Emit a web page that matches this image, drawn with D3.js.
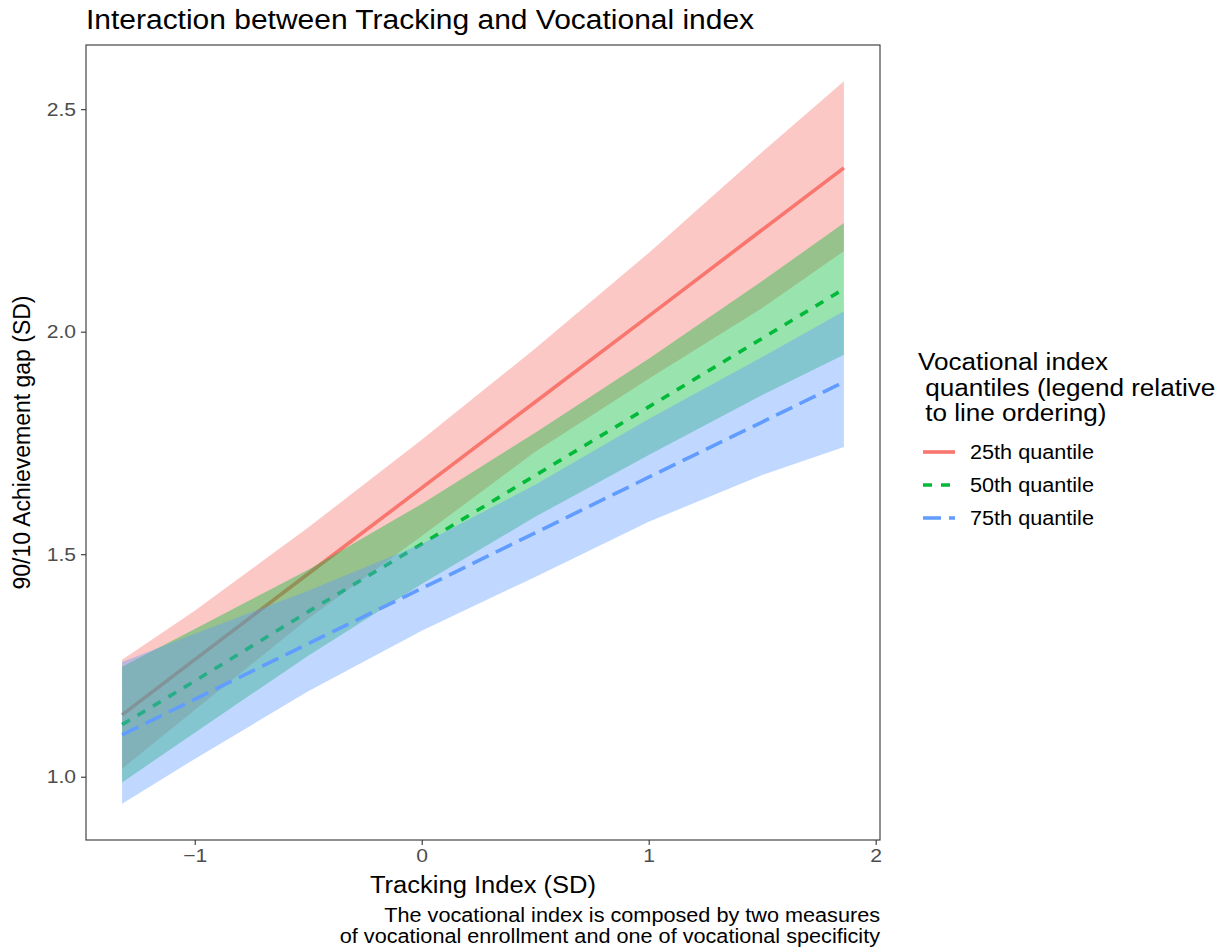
<!DOCTYPE html>
<html>
<head>
<meta charset="utf-8">
<script src="https://cdn.jsdelivr.net/npm/d3@7"></script>
<style>
  body { margin: 0; background: #fff; }
  svg text { font-family: "Liberation Sans", Arial, sans-serif; }
</style>
</head>
<body>
<div id="chart"></div>
<script>
// Tracking index positions where predictions were read
const trackingIdx = [-1.32, -1, -0.5, 0, 0.5, 1, 1.5, 1.86];

// 25th quantile of vocational index
const fit25 = [1.139, 1.263, 1.456, 1.649, 1.842, 2.035, 2.229, 2.368];
const hi25  = [1.263, 1.373, 1.560, 1.757, 1.962, 2.177, 2.404, 2.563];
const lo25  = [1.018, 1.150, 1.355, 1.541, 1.730, 1.894, 2.053, 2.181];

// 50th quantile
const fit50 = [1.117, 1.215, 1.371, 1.523, 1.677, 1.831, 1.985, 2.096];
const hi50  = [1.247, 1.332, 1.465, 1.613, 1.773, 1.939, 2.114, 2.244];
const lo50  = [0.987, 1.099, 1.272, 1.433, 1.584, 1.723, 1.858, 1.948];

// 75th quantile
const fit75 = [1.094, 1.174, 1.299, 1.423, 1.548, 1.673, 1.797, 1.887];
const hi75  = [1.258, 1.321, 1.418, 1.523, 1.656, 1.804, 1.943, 2.046];
const lo75  = [0.939, 1.040, 1.192, 1.328, 1.449, 1.573, 1.678, 1.741];

const seriesNames = ['25th quantile', '50th quantile', '75th quantile'];
const xTicks = [-1, 0, 1, 2];
const yTicks = [1.0, 1.5, 2.0, 2.5];

const width = 1227, height = 949;
const panel = { left: 86, right: 880, top: 45, bottom: 840 };
const stretch = 1.11; // reference text is a bit wider than it is tall

const colors = ['#F8766D', '#00BA38', '#619CFF'];
const dashes = [null, '9,9', '18,8'];

const series = [
    { name: seriesNames[0], fit: fit25, hi: hi25, lo: lo25 },
    { name: seriesNames[1], fit: fit50, hi: hi50, lo: lo50 },
    { name: seriesNames[2], fit: fit75, hi: hi75, lo: lo75 }
];

const svg = d3.select('#chart')
    .append('svg')
    .attr('width', width)
    .attr('height', height);

// ggplot-like 5% expansion
function expand(ext) {
    const pad = (ext[1] - ext[0]) * 0.05;
    return [ext[0] - pad, ext[1] + pad];
}

const allY = [].concat(hi25, lo25, hi50, lo50, hi75, lo75);

const xScale = d3.scaleLinear()
    .domain(expand(d3.extent(trackingIdx)))
    .range([panel.left, panel.right]);

const yScale = d3.scaleLinear()
    .domain(expand(d3.extent(allY)))
    .range([panel.bottom, panel.top]);

const area = d3.area()
    .x(d => xScale(d.x))
    .y0(d => yScale(d.lo))
    .y1(d => yScale(d.hi));

const line = d3.line()
    .x(d => xScale(d.x))
    .y(d => yScale(d.y));

// ribbons and lines, one series at a time
series.forEach((s, i) => {
    const pts = trackingIdx.map((x, j) => ({ x: x, lo: s.lo[j], hi: s.hi[j], y: s.fit[j] }));
    svg.append('path')
        .datum(pts)
        .attr('d', area)
        .attr('fill', colors[i])
        .attr('fill-opacity', 0.4);
    svg.append('path')
        .datum(pts)
        .attr('d', line)
        .attr('fill', 'none')
        .attr('stroke', colors[i])
        .attr('stroke-width', 3.6)
        .attr('stroke-dasharray', dashes[i]);
});

// panel border
svg.append('rect')
    .attr('x', panel.left)
    .attr('y', panel.top)
    .attr('width', panel.right - panel.left)
    .attr('height', panel.bottom - panel.top)
    .attr('fill', 'none')
    .attr('stroke', '#333')
    .attr('stroke-width', 1.1);

// axes
const xAxis = svg.append('g')
    .attr('transform', `translate(0,${panel.bottom})`)
    .call(d3.axisBottom(xScale).tickValues(xTicks).tickFormat(d3.format('d'))
        .tickSize(5).tickSizeOuter(0).tickPadding(4));

const yAxis = svg.append('g')
    .attr('transform', `translate(${panel.left},0)`)
    .call(d3.axisLeft(yScale).tickValues(yTicks).tickFormat(d3.format('.1f'))
        .tickSize(5).tickSizeOuter(0).tickPadding(5));

[xAxis, yAxis].forEach(ax => {
    ax.select('.domain').remove();
    ax.selectAll('line').attr('stroke', '#333').attr('stroke-width', 1.1);
    ax.selectAll('text')
        .attr('class', 'wide')
        .attr('fill', '#4D4D4D')
        .style('font-size', '19px');
});

// title
svg.append('text')
    .attr('class', 'wide')
    .attr('x', 86)
    .attr('y', 29)
    .style('font-size', '27px')
    .attr('fill', '#000')
    .text('Interaction between Tracking and Vocational index');

// axis titles
svg.append('text')
    .attr('class', 'wide')
    .attr('x', (panel.left + panel.right) / 2)
    .attr('y', 893)
    .attr('text-anchor', 'middle')
    .style('font-size', '23px')
    .text('Tracking Index (SD)');

svg.append('text')
    .attr('transform', `translate(30,${(panel.top + panel.bottom) / 2}) rotate(-90)`)
    .attr('text-anchor', 'middle')
    .style('font-size', '23px')
    .text('90/10 Achievement gap (SD)');

// caption
const caption = ['The vocational index is composed by two measures',
                 'of vocational enrollment and one of vocational specificity'];
svg.append('g').selectAll('text')
    .data(caption)
    .enter()
    .append('text')
    .attr('class', 'wide')
    .attr('x', panel.right)
    .attr('y', (d, i) => 922 + i * 21)
    .attr('text-anchor', 'end')
    .style('font-size', '19.5px')
    .text(d => d);

// legend
const legendTitle = ['Vocational index', ' quantiles (legend relative', ' to line ordering)'];
const legend = svg.append('g');
legend.selectAll('text.title')
    .data(legendTitle)
    .enter()
    .append('text')
    .attr('class', 'wide')
    .attr('x', 918)
    .attr('y', (d, i) => 370 + i * 25.5)
    .style('font-size', '23.5px')
    .style('white-space', 'pre')
    .attr('xml:space', 'preserve')
    .text(d => d);

const keys = legend.selectAll('g.key')
    .data(series)
    .enter()
    .append('g')
    .attr('transform', (d, i) => `translate(0,${452 + i * 33})`);

keys.append('line')
    .attr('x1', 923)
    .attr('x2', 955)
    .attr('y1', 0)
    .attr('y2', 0)
    .attr('stroke', (d, i) => colors[i])
    .attr('stroke-width', 3.6)
    .attr('stroke-dasharray', (d, i) => dashes[i]);

keys.append('text')
    .attr('class', 'wide')
    .attr('x', 970)
    .attr('y', 7)
    .style('font-size', '19.5px')
    .text(d => d.name);

// widen horizontal text to match the reference proportions
svg.selectAll('text.wide').each(function() {
    const w = this.getComputedTextLength();
    d3.select(this)
        .attr('textLength', w * stretch)
        .attr('lengthAdjust', 'spacingAndGlyphs');
});
</script>
</body>
</html>
